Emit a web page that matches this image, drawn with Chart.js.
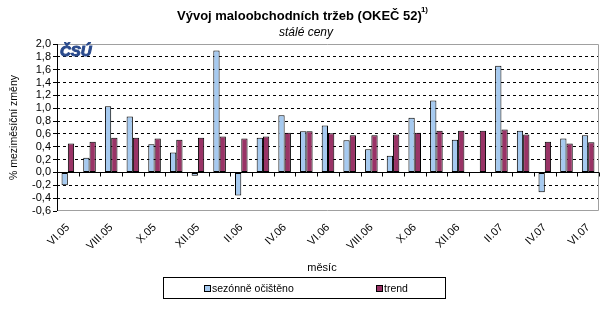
<!DOCTYPE html>
<html>
<head>
<meta charset="utf-8">
<script src="https://cdn.jsdelivr.net/npm/chart.js@4"></script>
<style>
    html, body { margin: 0; padding: 0; background: #fff; }
    #wrap { width: 604px; height: 326px; }
</style>
</head>
<body>
<div id="wrap"><canvas id="retailChart" width="604" height="326"></canvas></div>
<script>
// -----------------------------
// Données
// -----------------------------
const months = [
    "VI.05", "VII.05", "VIII.05", "IX.05", "X.05", "XI.05", "XII.05",
    "I.06", "II.06", "III.06", "IV.06", "V.06", "VI.06", "VII.06", "VIII.06",
    "IX.06", "X.06", "XI.06", "XII.06", "I.07", "II.07", "III.07", "IV.07",
    "V.07", "VI.07"
];
const seasonal = [
    -0.20, 0.23, 1.03, 0.87, 0.44, 0.31, -0.05, 1.90, -0.36, 0.54, 0.89, 0.64,
    0.73, 0.50, 0.36, 0.26, 0.85, 1.12, 0.51, 0.00, 1.66, 0.65, -0.31, 0.53, 0.58
];
const trend = [
    0.45, 0.48, 0.54, 0.54, 0.53, 0.51, 0.54, 0.56, 0.53, 0.56, 0.62, 0.64,
    0.61, 0.58, 0.58, 0.59, 0.62, 0.65, 0.65, 0.65, 0.67, 0.59, 0.48, 0.45, 0.47
];
const seriesNames = ["sezónně očištěno", "trend"];
const yTicks = { min: -0.6, max: 2.0, step: 0.2 };

const FONT = "'Liberation Sans', Arial, sans-serif";
const BLUE = "#a6caf0";
const PURPLE = "#993366";

// -----------------------------
// Cadre, ligne du zéro, titres, légende
// -----------------------------
const frame = {
    id: "frame",
    beforeDatasetsDraw(chart) {
        const { ctx, chartArea: a, scales: { y } } = chart;
        ctx.save();
        ctx.lineWidth = 1;
        // bordure grise
        ctx.strokeStyle = "#a0a0a0";
        ctx.beginPath();
        ctx.moveTo(a.left, a.top + 0.5);
        ctx.lineTo(a.right - 0.5, a.top + 0.5);
        ctx.lineTo(a.right - 0.5, a.bottom - 0.5);
        ctx.lineTo(a.left, a.bottom - 0.5);
        ctx.stroke();
        // axe Y
        ctx.strokeStyle = "#000";
        ctx.beginPath();
        ctx.moveTo(a.left + 0.5, a.top);
        ctx.lineTo(a.left + 0.5, a.bottom);
        ctx.stroke();
        // axe du zéro avec graduations entre les mois
        const y0 = Math.round(y.getPixelForValue(0)) + 0.5;
        ctx.beginPath();
        ctx.moveTo(a.left, y0);
        ctx.lineTo(a.right, y0);
        const step = (a.right - a.left) / months.length;
        for (let i = 1; i <= months.length; i++) {
            const px = Math.round(a.left + i * step) + 0.5;
            ctx.moveTo(px, y0);
            ctx.lineTo(px, y0 + 4);
        }
        ctx.stroke();
        ctx.restore();
    },
    afterDraw(chart) {
        const { ctx, chartArea: a } = chart;
        ctx.save();
        ctx.fillStyle = "#000";
        ctx.textBaseline = "middle";

        // titre + exposant
        const title = "Vývoj maloobchodních tržeb (OKEČ 52)";
        ctx.font = "bold 13px " + FONT;
        const tw = ctx.measureText(title).width;
        ctx.font = "bold 8px " + FONT;
        const sw = ctx.measureText("1)").width;
        let tx = 303 - (tw + sw) / 2;
        ctx.font = "bold 13px " + FONT;
        ctx.textAlign = "left";
        ctx.fillText(title, tx, 16);
        ctx.font = "bold 8px " + FONT;
        ctx.fillText("1)", tx + tw - 1, 10);

        // sous-titre
        ctx.font = "italic 12px " + FONT;
        ctx.textAlign = "center";
        ctx.fillText("stálé ceny", 306, 33);

        // logo CSU
        ctx.font = "italic bold 15px " + FONT;
        ctx.textAlign = "left";
        ctx.fillStyle = "#2a4a8c";
        ctx.fillText("ČSÚ", a.left + 3, a.top + 8);
        ctx.lineWidth = 1;
        ctx.strokeStyle = "#2a4a8c";
        ctx.strokeText("ČSÚ", a.left + 3, a.top + 8);

        // titre de l'axe X
        ctx.fillStyle = "#000";
        ctx.font = "11px " + FONT;
        ctx.textAlign = "center";
        ctx.fillText("měsíc", 322, 268);

        // légende
        ctx.strokeStyle = "#000";
        ctx.strokeRect(163.5, 277.5, 282, 21);
        const items = [
            { x: 204, color: chart.data.datasets[0].backgroundColor, label: seriesNames[0] },
            { x: 376, color: chart.data.datasets[1].backgroundColor, label: seriesNames[1] }
        ];
        ctx.font = "10.5px " + FONT;
        ctx.textAlign = "left";
        items.forEach(it => {
            ctx.fillStyle = it.color;
            ctx.fillRect(it.x, 285, 6, 6);
            ctx.strokeRect(it.x + 0.5, 285.5, 6, 6);
            ctx.fillStyle = "#000";
            ctx.fillText(it.label, it.x + 8, 289);
        });
        ctx.restore();
    }
};

// -----------------------------
// Graphique
// -----------------------------
new Chart(document.getElementById("retailChart"), {
    type: "bar",
    data: {
        labels: months,
        datasets: [
            {
                label: seriesNames[0],
                data: seasonal,
                backgroundColor: BLUE,
                borderColor: "#000",
                borderWidth: 1,
                borderSkipped: false,
                categoryPercentage: 0.58,
                barPercentage: 1.0
            },
            {
                label: seriesNames[1],
                data: trend,
                backgroundColor: PURPLE,
                borderColor: "#000",
                borderWidth: 1,
                borderSkipped: false,
                categoryPercentage: 0.58,
                barPercentage: 1.0
            }
        ]
    },
    options: {
        responsive: false,
        animation: false,
        layout: { padding: { left: 0, top: 44, right: 5, bottom: 0 } },
        plugins: {
            legend: { display: false },
            title: { display: false },
            tooltip: { enabled: false }
        },
        scales: {
            x: {
                grid: { display: false },
                border: { display: false },
                ticks: {
                    autoSkip: false,
                    maxRotation: 45,
                    minRotation: 45,
                    padding: 2,
                    color: "#000",
                    font: { family: FONT, size: 11 },
                    callback: (v, i) => (i % 2 === 0 ? months[i] : "")
                },
                afterFit: s => { s.height = 115; }
            },
            y: {
                min: yTicks.min,
                max: yTicks.max,
                border: {
                    display: false,
                    dash: [3, 3]
                },
                grid: {
                    color: c => {
                        const v = Math.round(c.tick.value * 10) / 10;
                        return (v === 0 || v === yTicks.max || v === yTicks.min) ? "rgba(0,0,0,0)" : "#000";
                    },
                    tickColor: "#000",
                    tickLength: 4
                },
                ticks: {
                    stepSize: yTicks.step,
                    autoSkip: false,
                    padding: 2,
                    color: "#000",
                    font: { family: FONT, size: 11 },
                    callback: v => v.toFixed(1).replace(".", ",")
                },
                title: {
                    display: true,
                    text: "% meziměsíční změny",
                    color: "#000",
                    font: { family: FONT, size: 10.5 },
                    padding: { top: 8, bottom: 0 }
                },
                afterFit: s => { s.width = 57; }
            }
        }
    },
    plugins: [frame]
});
</script>
</body>
</html>
